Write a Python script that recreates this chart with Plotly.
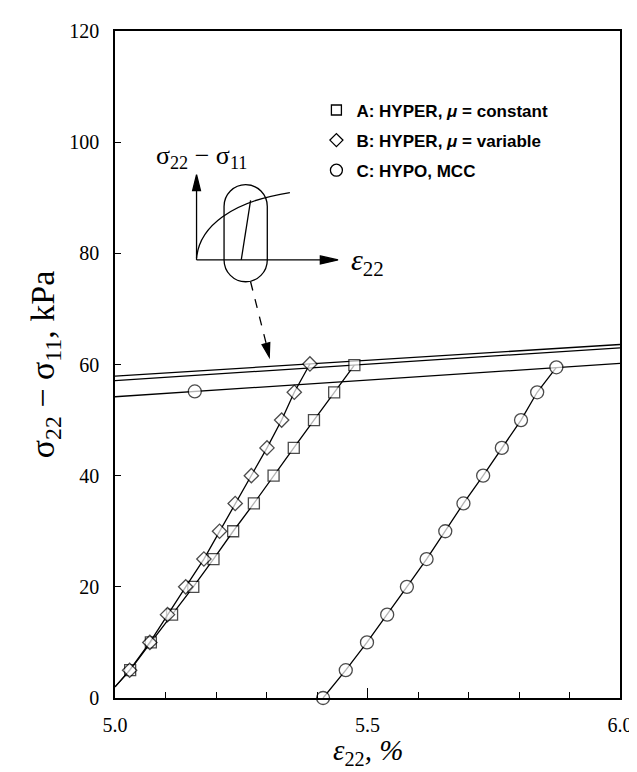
import plotly.graph_objects as go

# ---- data ----
a_x = [5.000, 5.030, 5.071, 5.113, 5.155, 5.195, 5.234, 5.275, 5.314, 5.354, 5.394, 5.434, 5.474]
a_y = [2.0, 5, 10, 15, 20, 25, 30, 35, 40, 45, 50, 55, 59.9]
b_x = [5.000, 5.029, 5.069, 5.104, 5.140, 5.176, 5.207, 5.238, 5.270, 5.301, 5.330, 5.355, 5.386]
b_y = [2.0, 5, 10, 15, 20, 25, 30, 35, 40, 45, 50, 55, 60.1]
c_x = [5.412, 5.457, 5.499, 5.539, 5.578, 5.617, 5.654, 5.690, 5.729, 5.766, 5.804, 5.836, 5.874]
c_y = [0, 5, 10, 15, 20, 25, 30, 35, 40, 45, 50, 55, 59.5]

a_lim_x = [5.0, 6.0]
a_lim_y = [57.1, 63.0]
b_lim_x = [5.0, 6.0]
b_lim_y = [57.9, 63.6]
c_lim_x = [5.0, 5.158, 6.0]
c_lim_y = [54.2, 55.15, 60.2]

legend_names = ["A: HYPER, <i>μ</i> = constant", "B: HYPER, <i>μ</i> = variable", "C: HYPO, MCC"]
x_ticks = [5.0, 5.5, 6.0]
y_ticks = [0, 20, 40, 60, 80, 100, 120]

# ---- layout constants ----
W, H = 637, 772
L, R, T, B = 107, 16, 17, 82
PW, PH = W - L - R, H - T - B

def px(x):
    return (x - L) / PW

def py(y):
    return (H - B - y) / PH

BLK = "black"
LW = 1.3
sym = {"A": "square", "B": "diamond", "C": "circle"}
msz = {"A": 11, "B": 11, "C": 13}

fig = go.Figure()

def add_curve(xs, ys, key, first_marker=True):
    sizes = [msz[key]] * len(xs)
    if not first_marker:
        sizes[0] = 0
    fig.add_trace(go.Scatter(
        x=xs, y=ys, mode="lines+markers", showlegend=False, cliponaxis=False,
        line=dict(color=BLK, width=LW),
        marker=dict(symbol=sym[key], size=sizes, color="white",
                    line=dict(color=BLK, width=LW))))

# limit lines
fig.add_trace(go.Scatter(x=a_lim_x, y=a_lim_y, mode="lines", showlegend=False,
                         line=dict(color=BLK, width=LW)))
fig.add_trace(go.Scatter(x=b_lim_x, y=b_lim_y, mode="lines", showlegend=False,
                         line=dict(color=BLK, width=LW)))
fig.add_trace(go.Scatter(x=c_lim_x, y=c_lim_y, mode="lines+markers", showlegend=False,
                         line=dict(color=BLK, width=LW),
                         marker=dict(symbol="circle", size=[0, msz["C"], 0], color="white",
                                     line=dict(color=BLK, width=LW))))

add_curve(a_x, a_y, "A", first_marker=False)
add_curve(b_x, b_y, "B", first_marker=False)
add_curve(c_x, c_y, "C")

# legend entries (markers only)
for i, key in enumerate(["A", "B", "C"]):
    fig.add_trace(go.Scatter(
        x=[None], y=[None], mode="markers", name=legend_names[i], legendgroup=key,
        marker=dict(symbol=sym[key], size=msz[key] - 1, color="white",
                    line=dict(color=BLK, width=LW))))

# ---- inset schematic (pixel geometry converted to paper coords) ----
shapes = []
def seg(x0, y0, x1, y1, dash="solid"):
    shapes.append(dict(type="line", xref="paper", yref="paper",
                       x0=px(x0), y0=py(y0), x1=px(x1), y1=py(y1),
                       line=dict(color=BLK, width=1.3, dash=dash)))

def path(pts_cmds, fill=None):
    shapes.append(dict(type="path", xref="paper", yref="paper", path=pts_cmds,
                       line=dict(color=BLK, width=1.3),
                       fillcolor=fill if fill else "rgba(0,0,0,0)"))

def P(x, y):
    return f"{px(x):.5f},{py(y):.5f}"

ox, oy = 190, 248
seg(ox, oy, ox, 176)
seg(ox, oy, 320, oy)
path(f"M{P(186,178)} L{P(190,162)} L{P(194,178)} Z", fill=BLK)
path(f"M{P(316,244)} L{P(334,248)} L{P(316,252)} Z", fill=BLK)
# loading curve
path(f"M{P(190,246)} C{P(193,214)} {P(226,189)} {P(285,180)}")
# unloading line
seg(235.5, 248, 245, 188)
# stadium
k = 0.5523
x0s, x1s, y0s, y1s, r = 218, 262, 172, 270, 22
cx = (x0s + x1s) / 2
stad = (f"M{P(x0s, y0s + r)} "
        f"C{P(x0s, y0s + r - k*r)} {P(cx - k*r, y0s)} {P(cx, y0s)} "
        f"C{P(cx + k*r, y0s)} {P(x1s, y0s + r - k*r)} {P(x1s, y0s + r)} "
        f"L{P(x1s, y1s - r)} "
        f"C{P(x1s, y1s - r + k*r)} {P(cx + k*r, y1s)} {P(cx, y1s)} "
        f"C{P(cx - k*r, y1s)} {P(x0s, y1s - r + k*r)} {P(x0s, y1s - r)} Z")
path(stad)
# dashed pointer arrow
seg(245, 270, 260.8, 332, dash="dash")
path(f"M{P(264.5,331.4)} L{P(264,346)} L{P(256.7,333.4)} Z", fill=BLK)

annotations = [
    dict(xref="paper", yref="paper", x=px(195), y=py(144), showarrow=False,
         xanchor="center", yanchor="middle",
         text="σ<sub>22</sub> − σ<sub>11</sub>",
         font=dict(family="Liberation Serif", size=26, color=BLK)),
    dict(xref="paper", yref="paper", x=px(364), y=py(250), showarrow=False,
         xanchor="center", yanchor="middle",
         text="<i>ε</i><sub>22</sub>",
         font=dict(family="Liberation Serif", size=30, color=BLK)),
    # x-axis title
    dict(xref="paper", yref="paper", x=0.5, y=py(765), showarrow=False,
         xanchor="center", yanchor="bottom",
         text="<i>ε</i><sub>22</sub><i>, %</i>",
         font=dict(family="Liberation Serif", size=29, color=BLK)),
]

fig.update_layout(
    width=W, height=H,
    margin=dict(l=L, r=R, t=T, b=B),
    paper_bgcolor="white", plot_bgcolor="white",
    shapes=shapes, annotations=annotations,
    legend=dict(x=px(312), y=py(79), xanchor="left", yanchor="top",
                bgcolor="rgba(0,0,0,0)", traceorder="grouped", tracegroupgap=5,
                font=dict(family="Liberation Sans", size=17, color=BLK, weight="bold")),
    xaxis=dict(range=[5.0, 6.0], tickvals=x_ticks, ticktext=[f"{v:.1f}" for v in x_ticks],
               ticks="inside", ticklen=10, tickwidth=1.3, tickcolor=BLK,
               minor=dict(dtick=0.1, tick0=5.0, ticks="inside", ticklen=6, tickwidth=1.3, tickcolor=BLK),
               showline=True, linecolor=BLK, linewidth=1.6, mirror=True,
               showgrid=False, zeroline=False, ticklabelstandoff=8,
               tickfont=dict(family="Liberation Serif", size=20, color=BLK)),
    yaxis=dict(range=[0, 120], tickvals=y_ticks,
               ticks="inside", ticklen=6, tickwidth=1.3, tickcolor=BLK,
               showline=True, linecolor=BLK, linewidth=1.6, mirror=True,
               showgrid=False, zeroline=False, ticklabelstandoff=10,
               tickfont=dict(family="Liberation Serif", size=20, color=BLK),
               title=dict(text="σ<sub>22</sub> − σ<sub>11</sub>, kPa", standoff=4,
                          font=dict(family="Liberation Serif", size=34, color=BLK))),
)

fig.write_html("out.html")
